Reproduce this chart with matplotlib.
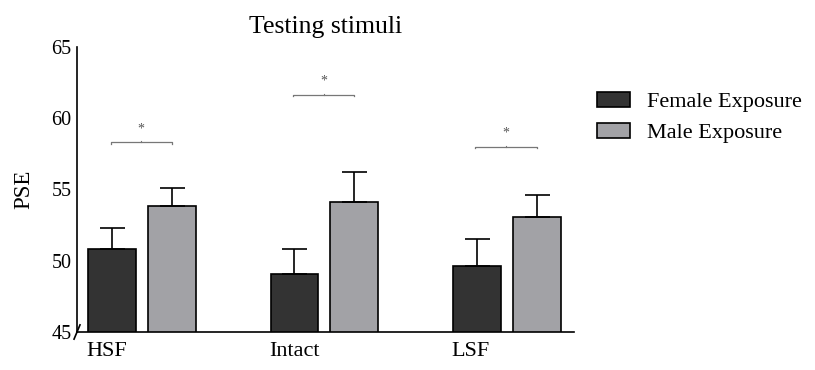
import numpy as np
import matplotlib.pyplot as plt

plt.rcParams['font.family'] = ['Liberation Serif', 'DejaVu Serif']

# Data
conditions = ["HSF", "Intact", "LSF"]
female_mean = [50.8, 49.1, 49.6]
female_err = [1.5, 1.7, 1.9]
male_mean = [53.85, 54.1, 53.1]
male_err = [1.25, 2.1, 1.5]
bracket_y = [58.3, 61.65, 58.0]
series_labels = ["Female Exposure", "Male Exposure"]

fig = plt.figure(figsize=(8.15, 3.7), dpi=100)
ax = fig.add_axes([0.0945, 0.1027, 0.6095, 0.7703])

x = np.arange(len(conditions))
w = 0.262
off = 0.164
ekw = dict(elinewidth=1.2, capsize=9, capthick=1.2, ecolor="black")
ax.bar(x - off, female_mean, w, bottom=0, color="#333333", edgecolor="black",
       linewidth=1.2, label=series_labels[0])
ax.bar(x + off, male_mean, w, bottom=0, color="#a2a2a6", edgecolor="black",
       linewidth=1.2, label=series_labels[1])
# error bars: upper side only
ax.errorbar(x - off, female_mean, yerr=[np.zeros(3), female_err], fmt="none", **ekw)
ax.errorbar(x + off, male_mean, yerr=[np.zeros(3), male_err], fmt="none", **ekw)

# significance brackets
for xi, by in zip(x, bracket_y):
    x0, x1 = xi - off - 0.008, xi + off + 0.0
    ax.plot([x0, x0, x1, x1], [by - 0.12, by, by, by - 0.12], color="#777777", lw=0.9)
    ax.plot([(x0 + x1) / 2] * 2, [by, by + 0.08], color="#777777", lw=0.8)
    ax.text((x0 + x1) / 2, by + 0.5, "*", ha="center", va="bottom", fontsize=10,
            color="#555555")

ax.set_ylim(45, 65)
ax.set_xlim(-0.356, 2.367)
ax.set_yticks([45, 50, 55, 60, 65])
ax.tick_params(axis="y", length=0, labelsize=14.5, pad=4)
ax.set_xticks(x - off - w / 2 - 0.008)
ax.set_xticklabels(conditions, ha="left")
ax.tick_params(axis="x", length=0, labelsize=16, pad=7)
for s in ["top", "right"]:
    ax.spines[s].set_visible(False)
for s in ["left", "bottom"]:
    ax.spines[s].set_linewidth(1.2)

# axis break mark
ax.plot([-0.006, 0.006], [-0.025, 0.025], transform=ax.transAxes, color="black",
        lw=1.2, clip_on=False)

ax.set_ylabel("PSE", fontsize=16.5, labelpad=12)
ax.set_title("Testing stimuli", fontsize=18.5, pad=10)

fig.legend(loc="upper left", bbox_to_anchor=(0.719, 0.782), frameon=False,
           borderpad=0, fontsize=16, handlelength=1.5, handleheight=0.65,
           handletextpad=0.75, labelspacing=0.5)

fig.savefig("out.png", dpi=100)
